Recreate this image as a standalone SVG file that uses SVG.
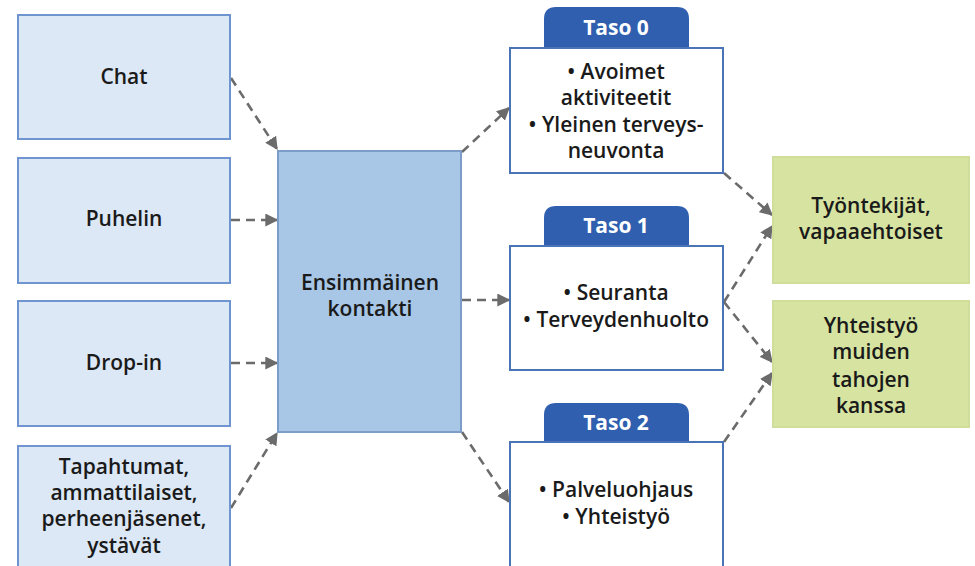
<svg xmlns="http://www.w3.org/2000/svg" width="975" height="566" viewBox="0 0 975 566">
<defs>
<marker id="ah" viewBox="0 0 10 10" refX="9" refY="5" markerWidth="5" markerHeight="5" orient="auto" markerUnits="strokeWidth">
<path d="M0,0 L10,5 L0,10 z" fill="#6b6b6b"/>
</marker>
<style>
.src{fill:#dce8f5;stroke:#6f95d0;stroke-width:2}
.mid{fill:#a8c6e6;stroke:#7c9dc8;stroke-width:2}
.lvl{fill:#ffffff;stroke:#4a73b8;stroke-width:2}
.tab{fill:#2f5fae}
.grn{fill:#d7e4a1;stroke:#cfdf9b;stroke-width:2}
.t{font-family:"Open Sans","Noto Sans",sans-serif;font-weight:600;font-size:21px;fill:#1a1a1a;text-anchor:middle}
.tw{font-family:"Open Sans","Noto Sans",sans-serif;font-weight:700;font-size:21px;fill:#ffffff;text-anchor:middle}
.c{fill:none;stroke:#6b6b6b;stroke-width:2.6;stroke-dasharray:9 6;marker-end:url(#ah)}
</style>
</defs>
<g id="connectors">
<path class="c" d="M231,78 L277,149"/>
<path class="c" d="M231,220 L277,220"/>
<path class="c" d="M231,363 L277,363"/>
<path class="c" d="M231,508 L277,433"/>
<path class="c" d="M462,152 L509,108"/>
<path class="c" d="M462,300 L509,300"/>
<path class="c" d="M462,432 L509,502"/>
<path class="c" d="M724,173 L772,215"/>
<path class="c" d="M724,302 L772,226"/>
<path class="c" d="M724,302 L772,362"/>
<path class="c" d="M724,442 L772,373"/>
</g>
<g id="chat">
<rect class="src" x="18" y="15" width="212" height="124"/>
<text class="t" x="124" y="84">Chat</text>
</g>
<g id="puhelin">
<rect class="src" x="18" y="158" width="212" height="125"/>
<text class="t" x="124" y="226">Puhelin</text>
</g>
<g id="dropin">
<rect class="src" x="18" y="301" width="212" height="125"/>
<text class="t" x="124" y="370">Drop-in</text>
</g>
<g id="tapahtumat">
<rect class="src" x="18" y="446" width="212" height="130"/>
<text class="t" x="124" y="474">Tapahtumat,</text>
<text class="t" x="124" y="500">ammattilaiset,</text>
<text class="t" x="124" y="526">perheenjäsenet,</text>
<text class="t" x="124" y="553">ystävät</text>
</g>
<g id="ensimmainen">
<rect class="mid" x="278" y="151" width="183" height="281"/>
<text class="t" x="370" y="290">Ensimmäinen</text>
<text class="t" x="370" y="316">kontakti</text>
</g>
<g id="taso0">
<path class="tab" d="M544,48 V19 Q544,7 556,7 H677 Q689,7 689,19 V48 Z"/>
<text class="tw" x="616" y="35">Taso 0</text>
<rect class="lvl" x="510" y="48" width="213" height="125"/>
<text class="t" x="616" y="79">• Avoimet</text>
<text class="t" x="616" y="105">aktiviteetit</text>
<text class="t" x="616" y="132">• Yleinen terveys-</text>
<text class="t" x="616" y="158">neuvonta</text>
</g>
<g id="taso1">
<path class="tab" d="M544,246 V218 Q544,206 556,206 H677 Q689,206 689,218 V246 Z"/>
<text class="tw" x="616" y="233">Taso 1</text>
<rect class="lvl" x="510" y="246" width="213" height="124"/>
<text class="t" x="616" y="300">• Seuranta</text>
<text class="t" x="616" y="327">• Terveydenhuolto</text>
</g>
<g id="taso2">
<path class="tab" d="M544,442 V415 Q544,403 556,403 H677 Q689,403 689,415 V442 Z"/>
<text class="tw" x="616" y="430">Taso 2</text>
<rect class="lvl" x="510" y="442" width="213" height="134"/>
<text class="t" x="616" y="497">• Palveluohjaus</text>
<text class="t" x="616" y="524">• Yhteistyö</text>
</g>
<g id="tyontekijat">
<rect class="grn" x="773" y="157" width="196" height="126"/>
<text class="t" x="871" y="213">Työntekijät,</text>
<text class="t" x="871" y="239">vapaaehtoiset</text>
</g>
<g id="yhteistyo">
<rect class="grn" x="773" y="301" width="196" height="126"/>
<text class="t" x="871" y="333">Yhteistyö</text>
<text class="t" x="871" y="359">muiden</text>
<text class="t" x="871" y="387">tahojen</text>
<text class="t" x="871" y="413">kanssa</text>
</g>
</svg>
